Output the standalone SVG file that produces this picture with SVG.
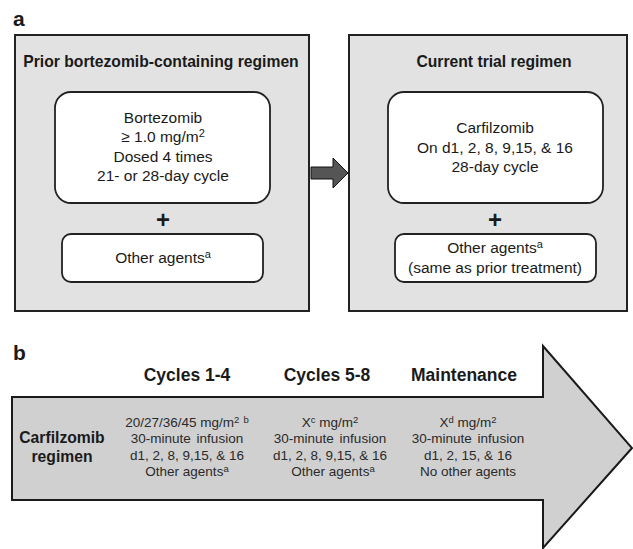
<svg xmlns="http://www.w3.org/2000/svg" width="633" height="549" viewBox="0 0 633 549">
<style>
text{font-family:"Liberation Sans",Arial,sans-serif;fill:#1a1a1a}
.lbl{font-size:21px;font-weight:bold}
.title{font-size:15.7px;font-weight:bold;text-anchor:middle}
.body{font-size:15.5px;text-anchor:middle}
.plus{font-size:24px;font-weight:bold;text-anchor:middle}
.hdr{font-size:17.5px;font-weight:bold;text-anchor:middle}
.small{font-size:13.5px;text-anchor:middle;fill:#2a2a2a}
.sup{font-size:11px}
.sups{font-size:9.5px}
.panel{fill:#e2e2e2;stroke:#222;stroke-width:2}
.inner{fill:#fff;stroke:#222;stroke-width:1.8}
</style>
<text class="lbl" x="13" y="26">a</text>
<g id="prior">
<rect class="panel" x="15" y="35" width="294" height="276"/>
<text class="title" x="161" y="67">Prior bortezomib-containing regimen</text>
</g>
<g id="bortezomib">
<rect class="inner" x="55" y="92" width="215" height="111" rx="16"/>
<text class="body" x="163" y="123">Bortezomib</text>
<text class="body" x="163" y="142">≥ 1.0 mg/m<tspan class="sup" dy="-5">2</tspan></text>
<text class="body" x="163" y="162">Dosed 4 times</text>
<text class="body" x="163" y="181">21- or 28-day cycle</text>
<text class="plus" x="163" y="228">+</text>
</g>
<g id="other1">
<rect class="inner" x="62" y="234" width="201" height="48" rx="9"/>
<text class="body" x="163" y="263">Other agents<tspan class="sup" dy="-5">a</tspan></text>
</g>
<g id="current">
<rect class="panel" x="349" y="35" width="278" height="276"/>
<text class="title" x="494" y="67">Current trial regimen</text>
</g>
<g id="carfilzomib">
<rect class="inner" x="388" y="92" width="215" height="111" rx="16"/>
<text class="body" x="495" y="133">Carfilzomib</text>
<text class="body" x="495" y="153">On d1, 2, 8, 9,15, &amp; 16</text>
<text class="body" x="495" y="172">28-day cycle</text>
<text class="plus" x="495" y="228">+</text>
</g>
<g id="other2">
<rect class="inner" x="395" y="234" width="201" height="48" rx="9"/>
<text class="body" x="495" y="253">Other agents<tspan class="sup" dy="-5">a</tspan></text>
<text class="body" x="495" y="273">(same as prior treatment)</text>
</g>
<g id="connectors">
<polygon points="311,167 333,167 333,158 348,173 333,188 333,179 311,179" fill="#555" stroke="#111" stroke-width="1"/>
</g>
<text class="lbl" x="13" y="360">b</text>
<g id="regimen">
<polygon points="12,397 543,397 543,346 632,448 543,548 543,500 12,500" fill="#d0d0d0" stroke="#1a1a1a" stroke-width="2"/>
<text class="title" x="62" y="443" font-size="16">Carfilzomib</text>
<text class="title" x="62" y="462" font-size="16">regimen</text>
</g>
<g id="c14">
<text class="hdr" x="187" y="381">Cycles 1-4</text>
<text class="small" x="187" y="427">20/27/36/45 mg/m<tspan class="sups" dy="-4">2</tspan><tspan class="sups" dx="4">b</tspan></text>
<text class="small" x="187" y="443" word-spacing="2">30-minute infusion</text>
<text class="small" x="187" y="460">d1, 2, 8, 9,15, &amp; 16</text>
<text class="small" x="187" y="476">Other agents<tspan class="sups" dy="-4">a</tspan></text>
</g>
<g id="c58">
<text class="hdr" x="327" y="381">Cycles 5-8</text>
<text class="small" x="330" y="427">X<tspan class="sups" dy="-4">c</tspan><tspan dy="4"> mg/m</tspan><tspan class="sups" dy="-4">2</tspan></text>
<text class="small" x="330" y="443" word-spacing="2">30-minute infusion</text>
<text class="small" x="330" y="460">d1, 2, 8, 9,15, &amp; 16</text>
<text class="small" x="333" y="476">Other agents<tspan class="sups" dy="-4">a</tspan></text>
</g>
<g id="maint">
<text class="hdr" x="464" y="381">Maintenance</text>
<text class="small" x="468" y="427">X<tspan class="sups" dy="-4">d</tspan><tspan dy="4"> mg/m</tspan><tspan class="sups" dy="-4">2</tspan></text>
<text class="small" x="468" y="443" word-spacing="2">30-minute infusion</text>
<text class="small" x="468" y="460">d1, 2, 15, &amp; 16</text>
<text class="small" x="468" y="476">No other agents</text>
</g>
</svg>
